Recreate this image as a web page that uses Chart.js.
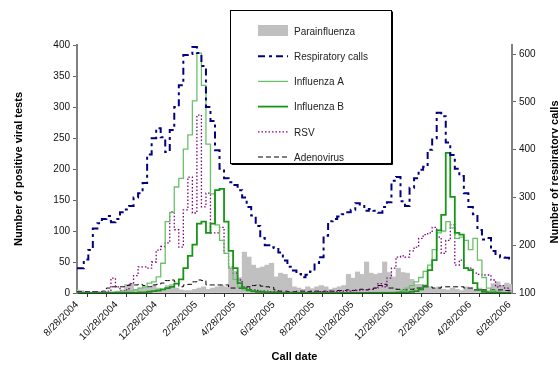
<!DOCTYPE html>
<html>
<head>
<meta charset="utf-8">
<script src="https://cdn.jsdelivr.net/npm/chart.js@4/dist/chart.umd.min.js"></script>
<style>
  html, body { margin: 0; padding: 0; background: #fff; }
</style>
</head>
<body>
<canvas id="chart" width="558" height="369"></canvas>
<script>
// weekly counts, first week = 8/28/2004
var startDate = '8/28/2004';

var monthTicks = ['8/28/2004','9/28/2004','10/28/2004','11/28/2004','12/28/2004','1/28/2005',
  '2/28/2005','3/28/2005','4/28/2005','5/28/2005','6/28/2005','7/28/2005','8/28/2005',
  '9/28/2005','10/28/2005','11/28/2005','12/28/2005','1/28/2006','2/28/2006','3/28/2006',
  '4/28/2006','5/28/2006','6/28/2006'];

var rightTicks = [100, 200, 300, 400, 500, 600];

var parainfluenza = [5,4,2,1,1,2,1,2,2,3, 5,14,16,6,8,10,8,13,8,6,
  12,14,8,5,4,4,6,8,10,6, 8,10,12,10,40,35,25,66,58,45,
  40,42,45,48,26,32,30,24,10,8, 6,10,7,10,12,10,6,8,10,12,
  30,24,34,30,50,32,30,32,50,33, 26,40,33,32,22,14,14,12,10,8,
  10,6,5,8,6,4,10,8,5,8, 6,4,15,18,12,16,14];

var respCalls = [152,152,170,190,235,246,255,261,248,255, 269,275,282,300,309,330,390,424,445,426,
  395,441,489,535,598,600,615,602,575,489, 460,399,360,340,332,326,315,300,280,262,
  240,215,200,196,194,185,168,155,147,140, 133,138,145,163,175,220,250,255,260,265,
  269,274,288,282,272,276,272,268,280,290, 335,343,292,282,320,340,358,364,400,424,
  477,470,415,389,360,345,309,280,265,232, 212,215,188,179,175,174,172];

var fluA = [0,0,0,0,0,0,1,1,1,2, 2,2,3,5,8,10,16,18,26,48,
  115,130,171,185,232,255,310,387,335,240, 160,110,85,64,40,22,10,5,3,2,
  1,1,1,0,0,0,0,0,0,0, 0,0,0,0,0,0,0,0,0,0,
  0,0,0,0,0,1,1,1,1,1, 1,2,4,8,12,18,25,35,45,70,
  97,100,115,105,88,90,85,70,88,53, 25,8,4,2,1,0,0];

var fluB = [0,0,0,0,0,0,0,0,0,0, 0,0,0,0,1,1,2,3,4,6,
  8,10,15,22,40,60,78,112,115,97, 112,166,168,115,68,40,16,8,5,3,
  2,2,1,1,1,0,0,0,0,0, 0,0,0,0,0,0,0,0,0,0,
  0,0,0,0,0,0,0,0,0,0, 0,0,1,1,2,3,6,12,37,53,
  101,126,226,155,97,94,40,37,16,5, 2,1,1,0,0,0,0];

var rsv = [0,1,0,1,2,1,2,3,24,10, 3,5,15,28,42,42,40,50,69,75,
  81,131,102,74,134,187,129,287,139,161, 97,97,106,64,42,32,21,10,8,5,
  4,3,3,2,2,2,1,1,1,1, 1,1,2,1,2,2,3,2,3,3,
  3,4,4,5,5,6,8,15,10,24, 40,58,60,58,68,74,88,94,97,106,
  90,64,85,110,45,53,40,40,32,30, 29,29,21,10,12,8,3];

var adeno = [2,2,2,2,2,2,3,8,10,10, 10,12,13,13,14,12,10,13,14,16,
  20,21,18,10,13,14,18,21,20,13, 13,13,13,13,8,8,8,9,10,12,
  13,11,10,9,5,3,3,2,2,3, 3,2,3,3,2,3,3,3,4,4,
  5,4,5,6,5,6,8,12,14,8, 8,6,5,5,6,8,8,10,10,8,
  8,10,10,10,10,10,8,8,5,5, 5,5,5,5,5,4,4];

var font = "'Liberation Sans', Arial, sans-serif";
Chart.defaults.font.family = font;
Chart.defaults.color = '#000';

function dayOf(s)
{
    var p = s.split('/');
    var a = startDate.split('/');
    return (Date.UTC(+p[2], p[0] - 1, +p[1]) - Date.UTC(+a[2], a[0] - 1, +a[1])) / 86400000;
}

function points(arr)
{
    return arr.map(function(v, i){ return {x: i * 7, y: v}; });
}

var tickDays = monthTicks.map(dayOf);
var labelAt = {};
monthTicks.forEach(function(s, i){ if (i % 2 == 0) labelAt[tickDays[i]] = s; });

var series = [
    {label: 'Parainfluenza', type: 'bar', data: points(parainfluenza), backgroundColor: '#c0c0c0',
     barPercentage: 1, categoryPercentage: 1, order: 10},
    {label: 'Respiratory calls', data: points(respCalls), yAxisID: 'y2', borderColor: '#000080',
     borderWidth: 2, borderDash: [7, 4, 3, 4], order: 1},
    {label: 'Influenza A', data: points(fluA), borderColor: '#6cc06c', borderWidth: 1.3, order: 4},
    {label: 'Influenza B', data: points(fluB), borderColor: '#169616', borderWidth: 1.8, order: 3},
    {label: 'RSV', data: points(rsv), borderColor: '#800080', borderWidth: 1.3, borderDash: [1.5, 2], order: 5},
    {label: 'Adenovirus', data: points(adeno), borderColor: '#000', borderWidth: 1, borderDash: [5, 3], order: 6}
];
series.forEach(function(d){
    if (d.type != 'bar') {
        d.stepped = 'middle';
        d.pointRadius = 0;
        d.fill = false;
        d.borderCapStyle = 'butt';
    }
});

// titles + framed legend in the middle of the plot
var extras = {
    id: 'extras',
    afterDraw: function(c) {
        var ctx = c.ctx, a = c.chartArea;
        ctx.save();
        ctx.fillStyle = '#000';
        ctx.font = 'bold 11px ' + font;
        ctx.textAlign = 'center';
        ctx.textBaseline = 'middle';
        ctx.fillText('Call date', (a.left + a.right) / 2, 357);

        ctx.save();
        ctx.translate(19, 169);
        ctx.rotate(-Math.PI / 2);
        ctx.fillText('Number of positive viral tests', 0, 0);
        ctx.restore();

        ctx.save();
        ctx.translate(555, 172);
        ctx.rotate(-Math.PI / 2);
        ctx.fillText('Number of respiratory calls', 0, 0);
        ctx.restore();

        // legend box
        var bx = 230.5, by = 10.5, bw = 161, bh = 153;
        ctx.fillStyle = '#fff';
        ctx.fillRect(bx, by, bw, bh);
        ctx.strokeStyle = '#000';
        ctx.lineWidth = 1;
        ctx.strokeRect(bx, by, bw, bh);
        ctx.beginPath();
        ctx.moveTo(bx + 1, by + bh + 1);
        ctx.lineTo(bx + bw + 1, by + bh + 1);
        ctx.lineTo(bx + bw + 1, by + 1);
        ctx.stroke();

        ctx.font = '10px ' + font;
        ctx.textAlign = 'left';
        series.forEach(function(d, i){
            var y = 31 + i * 25.2;
            if (d.type == 'bar') {
                ctx.fillStyle = d.backgroundColor;
                ctx.fillRect(258, y - 6, 30, 11);
            } else {
                ctx.strokeStyle = d.borderColor;
                ctx.lineWidth = d.borderWidth;
                ctx.setLineDash(d.borderDash || []);
                ctx.beginPath();
                ctx.moveTo(258, y);
                ctx.lineTo(288, y);
                ctx.stroke();
                ctx.setLineDash([]);
            }
            ctx.fillStyle = '#222';
            ctx.fillText(d.label, 294, y + 1);
        });
        ctx.restore();
    }
};

var chart = new Chart(document.getElementById('chart').getContext('2d'), {
    type: 'line',
    data: { datasets: series },
    plugins: [extras],
    options: {
        responsive: false,
        animation: false,
        layout: { padding: { top: 45, left: 0, right: 0, bottom: 0 } },
        plugins: {
            legend: { display: false },
            tooltip: { enabled: false }
        },
        scales: {
            x: {
                type: 'linear',
                min: 0,
                max: 673,
                offset: false,
                afterBuildTicks: function(s){ s.ticks = tickDays.map(function(d){ return {value: d}; }); },
                afterFit: function(s){ s.height = 76; },
                ticks: {
                    autoSkip: false,
                    minRotation: 45,
                    maxRotation: 45,
                    padding: 2,
                    font: { size: 10 },
                    color: '#111',
                    callback: function(v){ return labelAt[v] || ''; }
                },
                grid: { drawOnChartArea: false, tickLength: 4, color: '#333' },
                border: { color: '#333', width: 1 }
            },
            y: {
                min: 0,
                max: 400,
                afterFit: function(s){ s.width = 77; },
                ticks: { stepSize: 50, padding: 3, font: { size: 10 }, color: '#111' },
                grid: { drawOnChartArea: false, tickLength: 4, color: '#666' },
                border: { color: '#808080', width: 2 }
            },
            y2: {
                position: 'right',
                min: 100,
                max: 619,
                afterBuildTicks: function(s){ s.ticks = rightTicks.map(function(v){ return {value: v}; }); },
                afterFit: function(s){ s.width = 46; },
                ticks: { padding: 3, font: { size: 10 }, color: '#111' },
                grid: { drawOnChartArea: false, tickLength: 4, color: '#666' },
                border: { color: '#808080', width: 2 }
            }
        }
    }
});
</script>
</body>
</html>
